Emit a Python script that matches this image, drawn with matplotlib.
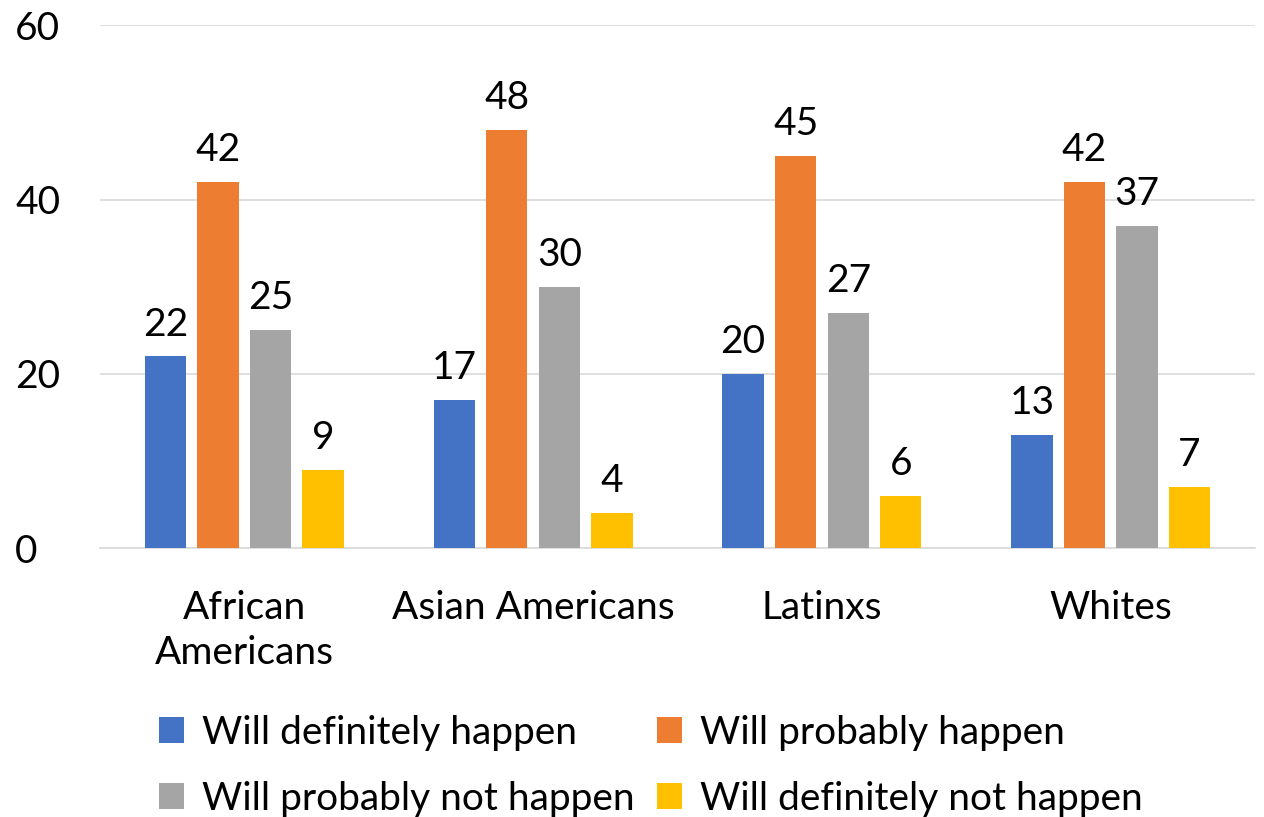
import matplotlib.pyplot as plt
import numpy as np

categories = ["African\nAmericans", "Asian Americans", "Latinxs", "Whites"]
series_names = ["Will definitely happen", "Will probably happen",
                "Will probably not happen", "Will definitely not happen"]
definitely = [22, 17, 20, 13]
probably = [42, 48, 45, 42]
probably_not = [25, 30, 27, 37]
definitely_not = [9, 4, 6, 7]
colors = ["#4472C4", "#ED7D31", "#A5A5A5", "#FFC000"]

plt.rcParams['font.family'] = ['Lato', 'DejaVu Sans']

fig = plt.figure(figsize=(12.64, 8.17), dpi=100)
ax = fig.add_axes([0.079, 0.329, 0.914, 0.640])

x = np.arange(len(categories))
width = 0.143
step = 0.182
all_series = [definitely, probably, probably_not, definitely_not]
handles = []
for i, vals in enumerate(all_series):
    pos = x + (i - 1.5) * step
    bars = ax.bar(pos, vals, width, color=colors[i], label=series_names[i], zorder=3)
    handles.append(bars)
    for b, v in zip(bars, vals):
        ax.text(b.get_x() + b.get_width() / 2, v + 1.6, str(v),
                ha='center', va='bottom', fontsize=28, color='black')

ax.set_xlim(-0.5, 3.5)
ax.set_ylim(0, 60)
ax.set_yticks([0, 20, 40, 60])
ax.yaxis.grid(True, color='#D9D9D9', linewidth=1.2, zorder=0)
ax.set_xticks(x)
ax.set_xticklabels(categories, fontsize=28, linespacing=1.3)
ax.tick_params(axis='y', labelsize=28, length=0, pad=61)
ax.tick_params(axis='x', length=0, pad=30)
for s in ['top', 'right', 'left']:
    ax.spines[s].set_visible(False)
ax.spines['bottom'].set_color('#D9D9D9')
ax.spines['bottom'].set_linewidth(1.2)
for lbl in ax.get_yticklabels():
    lbl.set_horizontalalignment('left')

# legend is filled row by row in the reference
order = [0, 2, 1, 3]
leg = fig.legend([handles[k] for k in order], [series_names[k] for k in order],
                 loc='lower left', bbox_to_anchor=(0.098, -0.043), ncol=2,
                 frameon=False, fontsize=28, handlelength=0.65, handleheight=0.65,
                 handletextpad=0.45, columnspacing=0.58, labelspacing=0.78)

fig.savefig("out.png", dpi=100)
